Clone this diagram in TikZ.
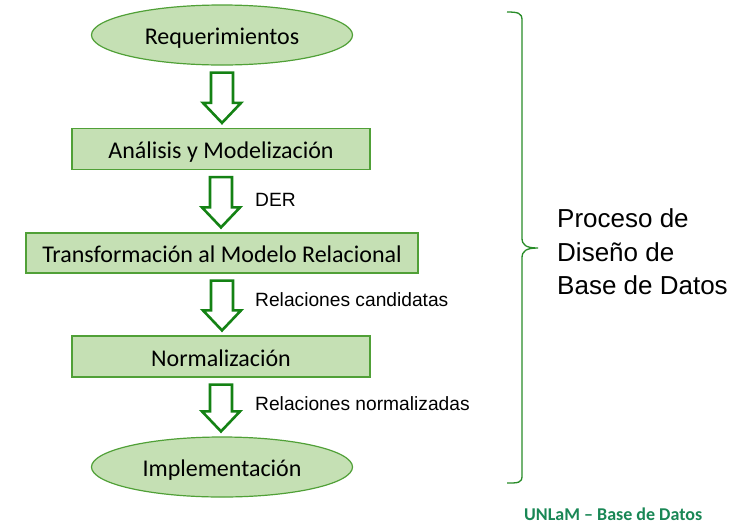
\documentclass[tikz,border=0pt]{standalone}
\usepackage{fontspec}
\setmainfont{Carlito}
\newfontfamily\arialf{Liberation Sans}
\usetikzlibrary{shapes.geometric,calc}
\definecolor{boxfill}{RGB}{197,224,180}
\definecolor{boxline}{RGB}{80,160,55}
\definecolor{arrline}{RGB}{20,130,20}
\definecolor{bracecol}{RGB}{40,140,40}
\definecolor{unlam}{RGB}{25,135,85}
\tikzset{
  ell/.style={ellipse, draw=boxline, line width=1.2pt, fill=boxfill, inner sep=0pt, minimum width=261pt, minimum height=60pt, text height=19pt, text depth=0pt, font=\fontsize{24}{28}\selectfont},
  stepbox/.style={rectangle, draw=boxline, line width=1.2pt, fill=boxfill, inner sep=0pt, minimum height=41pt, text height=19pt, text depth=0pt, font=\fontsize{24}{28}\selectfont},
  blockarr/.style={draw=arrline, line width=2.6pt, fill=white, line join=miter},
  lbl/.style={anchor=west, inner sep=0pt, font=\arialf\fontsize{19.2}{22}\selectfont},
}
\newcommand\blockarrow[2]{%
  \draw[blockarr] let \p1=($(#1.south)+(0,7)$), \p2=($(#2.north)+(0,-5)$) in
    (\x1-11pt,\y1) -- (\x1+11pt,\y1) -- (\x1+11pt,\y2+20pt) -- (\x1+19pt,\y2+20pt)
    -- (\x1,\y2) -- (\x1-19pt,\y2+20pt) -- (\x1-11pt,\y2+20pt) -- cycle;}
\begin{document}
\begin{tikzpicture}[x=1pt,y=-1pt]
\useasboundingbox[fill=white] (0,0) rectangle (755,531);
\node[ell] (req) at (222,35) {Requerimientos};
\node[stepbox, minimum width=298pt] (ana) at (221,149) {Análisis y Modelización};
\node[stepbox, minimum width=392pt, minimum height=40pt] (tra) at (222,253) {Transformación al Modelo Relacional};
\node[stepbox, minimum width=298pt] (nor) at (221,356.5) {Normalización};
\node[ell] (imp) at (222,467) {Implementación};
\blockarrow{req}{ana}
\blockarrow{ana}{tra}
\blockarrow{tra}{nor}
\blockarrow{nor}{imp}
\node[lbl] (l1) at (255,200) {DER};
\node[lbl] (l2) at (255,300) {Relaciones candidatas};
\node[lbl] (l3) at (255,404) {Relaciones normalizadas};
\draw[bracecol, line width=1.3pt] (507,12) .. controls (518,12) and (522,13) .. (522,20)
  -- (522,238) .. controls (522,245) and (526,248) .. (538,248)
  .. controls (526,248) and (522,251) .. (522,258)
  -- (522,476) .. controls (522,483) and (518,483) .. (507,483);
\node[anchor=west, inner sep=0pt, align=left, font=\arialf\fontsize{26}{33.5}\selectfont] (proc) at (557,252) {Proceso de\\Diseño de\\Base de Datos};
\node[anchor=west, inner sep=0pt, text=unlam, font=\bfseries\fontsize{18}{21}\selectfont] (foot) at (524,514) {UNLaM – Base de Datos};
\end{tikzpicture}
\end{document}
